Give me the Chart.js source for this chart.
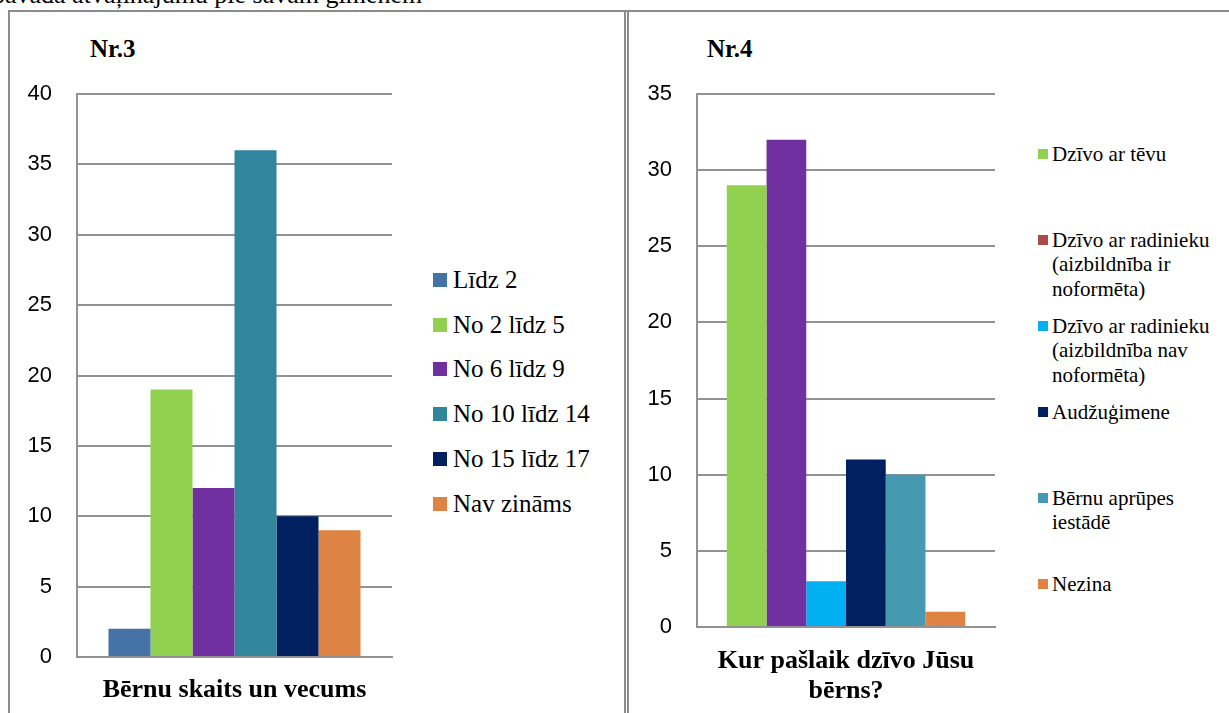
<!DOCTYPE html>
<html>
<head>
<meta charset="utf-8">
<script src="https://cdn.jsdelivr.net/npm/chart.js@4/dist/chart.umd.min.js"></script>
<style>
  body { margin: 0; width: 1229px; height: 713px; overflow: hidden; background: #fff; position: relative; }
  .abs { position: absolute; }
  .cut { left: -8px; top: -20px; font: 26px "Liberation Serif", serif; white-space: nowrap; color: #000; }
  .frame-top { left: 8px; top: 10px; width: 1221px; height: 2px; background: #8c8c8c; }
  .frame-left { left: 8px; top: 10px; width: 2px; height: 710px; background: #8c8c8c; }
  .frame-mid { left: 624px; top: 10px; width: 0; height: 710px; border-left: 5px double #8c8c8c; }
  .nr { top: 35px; font: bold 25px "Liberation Serif", serif; color: #000; }
  .leg-item { position: absolute; color: #000; white-space: nowrap; font-family: "Liberation Serif", "Times New Roman", serif; }
  .leg-box { position: absolute; }
  canvas { position: absolute; }
</style>
</head>
<body>

<div class="abs cut">pavada atvaļinājumu pie savām ģimenēm</div>
<div class="abs frame-top"></div>
<div class="abs frame-left"></div>
<div class="abs frame-mid"></div>

<div class="abs nr" style="left:90px">Nr.3</div>
<div class="abs nr" style="left:707px">Nr.4</div>

<canvas id="age-chart" width="400" height="643" style="left:8px; top:70px"></canvas>
<canvas id="home-chart" width="400" height="643" style="left:628px; top:70px"></canvas>

<div id="age-legend"></div>
<div id="home-legend"></div>

<script>
// --- data: Nr.3, children by age ---
const ageTitle = 'Bērnu skaits un vecums';
const ageLabels = ['Līdz 2', 'No 2 līdz 5', 'No 6 līdz 9', 'No 10 līdz 14', 'No 15 līdz 17', 'Nav zināms'];
const ageCounts = [2, 19, 12, 36, 10, 9];
const ageColors = ['#4572A7', '#92D050', '#7030A0', '#31859C', '#002060', '#DE8344'];
const ageTicks = [0, 5, 10, 15, 20, 25, 30, 35, 40];

// --- data: Nr.4, where the child lives now ---
const homeTitle = ['Kur pašlaik dzīvo Jūsu', 'bērns?'];
const homeLabels = [
  ['Dzīvo ar tēvu'],
  ['Dzīvo ar radinieku', '(aizbildnība ir', 'noformēta)'],
  ['Dzīvo ar radinieku', '(aizbildnība nav', 'noformēta)'],
  ['Audžuģimene'],
  ['Bērnu aprūpes', 'iestādē'],
  ['Nezina']
];
const homeCounts = [29, 32, 3, 11, 10, 1];
const homeColors = ['#92D050', '#7030A0', '#00B0F0', '#002060', '#4599B1', '#DE8344'];
// legend swatches as printed in the original (2nd one differs from its bar)
const homeLegendColors = ['#92D050', '#A94A48', '#00B0F0', '#002060', '#4599B1', '#DE8344'];
const homeTicks = [0, 5, 10, 15, 20, 25, 30, 35];

const gridGray = '#929292';

function makeChart(canvas, title, labels, counts, colors, ticks, opts) {
  return new Chart(canvas, {
    type: 'bar',
    data: {
      labels: [''],
      datasets: labels.map((lab, i) => ({
        label: Array.isArray(lab) ? lab.join(' ') : lab,
        data: [counts[i]],
        backgroundColor: colors[i],
        borderWidth: 0,
        categoryPercentage: 0.8,
        barPercentage: 1.0
      }))
    },
    options: {
      responsive: false,
      animation: false,
      layout: { padding: { top: 24, right: opts.padRight, left: 0, bottom: 0 } },
      plugins: { legend: { display: false }, tooltip: { enabled: false } },
      scales: {
        x: {
          grid: { display: false },
          border: { display: true, color: gridGray, width: 2 },
          ticks: { display: false },
          title: {
            display: true,
            text: title,
            color: '#000',
            font: { family: 'Liberation Serif', size: 26, weight: 'bold', lineHeight: opts.titleLine },
            padding: { top: 0, bottom: 7 }
          },
          afterFit: (scale) => { scale.height = opts.xHeight; }
        },
        y: {
          min: ticks[0],
          max: ticks[ticks.length - 1],
          afterBuildTicks: (scale) => { scale.ticks = ticks.map(v => ({ value: v })); },
          grid: { color: gridGray, lineWidth: 2, drawTicks: false },
          border: { display: true, color: gridGray, width: 2 },
          ticks: { color: '#000', padding: 25, font: { family: 'Liberation Sans', size: 22 } },
          afterFit: (scale) => {
            scale.width = 69;
            // tick padding is horizontal space only; keep it from pushing the plot down
            scale.paddingTop = 12;
            scale.paddingBottom = 12;
          }
        }
      }
    }
  });
}

makeChart(document.getElementById('age-chart'), ageTitle, ageLabels, ageCounts, ageColors, ageTicks,
  { padRight: 16, xHeight: 56, titleLine: 1.2 });
makeChart(document.getElementById('home-chart'), homeTitle, homeLabels, homeCounts, homeColors, homeTicks,
  { padRight: 33, xHeight: 86, titleLine: 1.154 });

// --- HTML legends ---
function buildLegend(el, labels, colors, o) {
  labels.forEach((lab, i) => {
    const cy = o.firstY + i * o.step;
    const box = document.createElement('div');
    box.className = 'leg-box';
    box.style.left = o.boxX + 'px';
    box.style.top = (cy - o.box / 2) + 'px';
    box.style.width = o.box + 'px';
    box.style.height = o.box + 'px';
    box.style.background = colors[i];
    el.appendChild(box);
    const txt = document.createElement('div');
    txt.className = 'leg-item';
    const lines = Array.isArray(lab) ? lab : [lab];
    txt.innerHTML = lines.join('<br>');
    txt.style.left = o.textX + 'px';
    txt.style.top = (cy - o.lineH / 2) + 'px';
    txt.style.fontSize = o.size + 'px';
    txt.style.lineHeight = o.lineH + 'px';
    el.appendChild(txt);
  });
}

buildLegend(document.getElementById('age-legend'), ageLabels, ageColors,
  { firstY: 280, step: 44.7, boxX: 433, box: 14, textX: 453, size: 25, lineH: 30 });
buildLegend(document.getElementById('home-legend'), homeLabels, homeLegendColors,
  { firstY: 154, step: 86, boxX: 1038, box: 10, textX: 1052, size: 21, lineH: 24.5 });
</script>
</body>
</html>
